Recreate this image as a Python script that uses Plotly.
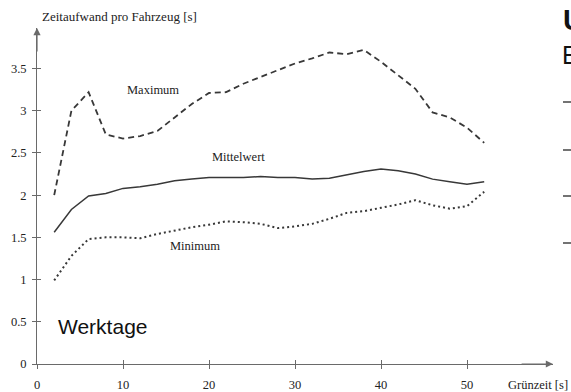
import plotly.graph_objects as go

# Grünzeit in seconds and time per vehicle (s) for working days
gruenzeit = [2, 4, 6, 8, 10, 12, 14, 16, 18, 20, 22, 24, 26, 28, 30, 32, 34, 36, 38, 40, 42, 44, 46, 48, 50, 52]
maximum = [2.00, 3.00, 3.22, 2.72, 2.67, 2.70, 2.76, 2.92, 3.08, 3.21, 3.22, 3.32, 3.40, 3.48, 3.56, 3.62,
           3.69, 3.67, 3.72, 3.58, 3.42, 3.26, 2.98, 2.92, 2.80, 2.62]
mittelwert = [1.56, 1.83, 1.99, 2.02, 2.08, 2.10, 2.13, 2.17, 2.19, 2.21, 2.21, 2.21, 2.22, 2.21, 2.21, 2.19,
              2.20, 2.24, 2.28, 2.31, 2.29, 2.25, 2.19, 2.16, 2.13, 2.16]
minimum = [0.99, 1.28, 1.48, 1.50, 1.50, 1.49, 1.54, 1.58, 1.62, 1.65, 1.69, 1.68, 1.66, 1.61, 1.63, 1.66,
           1.72, 1.79, 1.81, 1.85, 1.89, 1.94, 1.88, 1.84, 1.87, 2.04]

x_ticks = [0, 10, 20, 30, 40, 50]
y_ticks = [0, 0.5, 1, 1.5, 2, 2.5, 3, 3.5]
y_tick_text = ["0", "0.5", "1", "1.5", "2", "2.5", "3", "3.5"]

SERIF = "Liberation Serif"
SANS = "Liberation Sans"
LINE = "#383838"
AXIS = "#6a6a6a"

fig = go.Figure()
fig.add_trace(go.Scatter(x=gruenzeit, y=maximum, mode="lines", name="Maximum",
                         line=dict(color=LINE, width=1.8, dash="6px,4px")))
fig.add_trace(go.Scatter(x=gruenzeit, y=mittelwert, mode="lines", name="Mittelwert",
                         line=dict(color=LINE, width=1.5)))
fig.add_trace(go.Scatter(x=gruenzeit, y=minimum, mode="lines", name="Minimum",
                         line=dict(color=LINE, width=2, dash="2px,3px")))
# inside half of the crossing tick marks
fig.add_trace(go.Scatter(x=[None], y=[None], xaxis="x2", yaxis="y2", showlegend=False))

fig.update_layout(
    width=571, height=392,
    margin=dict(l=37, r=18, t=28, b=28, autoexpand=False),
    paper_bgcolor="white", plot_bgcolor="white",
    showlegend=False,
    font=dict(family=SERIF, size=12, color="#222"),
    xaxis=dict(range=[0, 60], tickvals=x_ticks, ticks="outside", ticklen=4, tickcolor=AXIS,
               showline=True, linecolor=AXIS, linewidth=1, showgrid=False, zeroline=False,
               automargin=False, ticklabelstandoff=5,
               tickfont=dict(family=SERIF, size=12.5, color="#222")),
    yaxis=dict(range=[0, 3.98], tickvals=y_ticks, ticktext=y_tick_text, ticks="outside", ticklen=4,
               tickcolor=AXIS, showline=True, linecolor=AXIS, linewidth=1, showgrid=False,
               zeroline=False, automargin=False, ticklabelstandoff=3,
               tickfont=dict(family=SERIF, size=12.5, color="#222")),
    xaxis2=dict(range=[0, 60], tickvals=x_ticks, ticks="inside", ticklen=4, tickcolor=AXIS,
                showticklabels=False, showgrid=False, zeroline=False, overlaying="x",
                automargin=False),
    yaxis2=dict(range=[0, 3.98], tickvals=y_ticks, ticks="inside", ticklen=4, tickcolor=AXIS,
                showticklabels=False, showgrid=False, zeroline=False, overlaying="y",
                automargin=False),
)

# axis arrowheads
fig.add_annotation(x=0, y=3.98, ax=0, ay=3.6, xref="x", yref="y", axref="x", ayref="y",
                   showarrow=True, arrowhead=2, arrowsize=1.2, arrowwidth=1.2, arrowcolor=AXIS,
                   text=" ", standoff=0)
fig.add_annotation(x=60, y=0, ax=56, ay=0, xref="x", yref="y", axref="x", ayref="y",
                   showarrow=True, arrowhead=2, arrowsize=1.2, arrowwidth=1.2, arrowcolor=AXIS,
                   text=" ", standoff=0)

# axis titles
fig.add_annotation(text="Zeitaufwand pro Fahrzeug [s]", xref="paper", yref="paper",
                   x=3 / 516, y=(364 - 17) / 336, xanchor="left", yanchor="middle",
                   showarrow=False, font=dict(family=SERIF, size=13, color="#222"))
fig.add_annotation(text="Grünzeit [s]", xref="paper", yref="paper",
                   x=(570 - 37) / 516, y=(364 - 385) / 336, xanchor="right", yanchor="middle",
                   showarrow=False, font=dict(family=SERIF, size=12.5, color="#222"))

# curve labels
fig.add_annotation(text="Maximum", x=13.5, y=3.25, showarrow=False,
                   font=dict(family=SERIF, size=12.5, color="#222"))
fig.add_annotation(text="Mittelwert", x=23.4, y=2.45, showarrow=False,
                   font=dict(family=SERIF, size=12.5, color="#222"))
fig.add_annotation(text="Minimum", x=18.4, y=1.40, showarrow=False,
                   font=dict(family=SERIF, size=12.5, color="#222"))
fig.add_annotation(text="Werktage", x=7.7, y=0.45, showarrow=False,
                   font=dict(family=SANS, size=21, color="#111"))

# neighbouring slide content at the right edge
fig.add_annotation(text="<b>U</b>", xref="paper", yref="paper", x=(561 - 37) / 516, y=(364 - 20) / 336,
                   xanchor="left", yanchor="middle", showarrow=False,
                   font=dict(family=SANS, size=29, color="#111"))
fig.add_annotation(text="E", xref="paper", yref="paper", x=(560 - 37) / 516, y=(364 - 55) / 336,
                   xanchor="left", yanchor="middle", showarrow=False,
                   font=dict(family=SANS, size=25, color="#111"))
for py in [102, 150, 196, 243]:
    fig.add_shape(type="line", xref="paper", yref="paper",
                  x0=(563 - 37) / 516, x1=(575 - 37) / 516, y0=(364 - py) / 336, y1=(364 - py) / 336,
                  line=dict(color="#444", width=1.5))

fig.write_html("out.html")
